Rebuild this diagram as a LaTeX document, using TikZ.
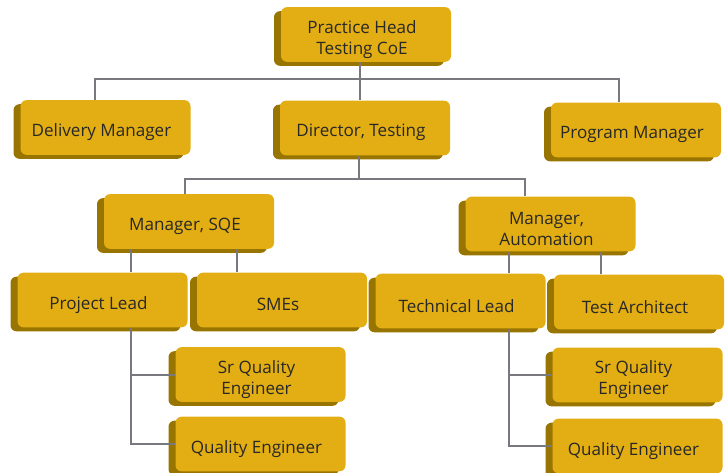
\documentclass[tikz,border=0pt]{standalone}
\usepackage{fontspec}
\setmainfont{Open Sans}
\usepackage{tikz}
\usetikzlibrary{shadows}
\definecolor{orgfront}{RGB}{226,174,20}
\definecolor{orgside}{RGB}{152,116,0}
\definecolor{orgline}{RGB}{120,121,126}
\definecolor{orgtext}{RGB}{40,40,40}

\tikzset{
  orgbox/.style={fill=orgfront, rounded corners=4.5pt, minimum width=127.5pt,
    minimum height=41pt, inner sep=0pt,
    general shadow={fill=orgside, shadow xshift=-5.25pt, shadow yshift=-3pt}},
  orglabel/.style={align=center, text=orgtext, inner sep=0pt,
    font=\fontsize{12.8}{15.8}\selectfont, xshift=-3pt, yshift=-3.5pt},
  orglink/.style={draw=orgline, line width=1.5pt}
}

\begin{document}
\begin{tikzpicture}[x=0.75pt, y=-0.75pt]
    \useasboundingbox (0,0) rectangle (727,473);

    % Top
    \node[orgbox, label={[orglabel]center:{Practice Head\\Testing CoE}}] (head) at (366,34.5) {};

    % Second row
    \node[orgbox, label={[orglabel]center:{Delivery Manager}}] (deliv) at (105.5,127.5) {};
    \node[orgbox, label={[orglabel]center:{Director, Testing}}] (director) at (365,128) {};
    \node[orgbox, label={[orglabel]center:{Program Manager}}] (program) at (636,130) {};

    % Managers
    \node[orgbox, label={[orglabel]center:{Manager, SQE}}] (sqe) at (189,221.5) {};
    \node[orgbox, label={[orglabel]center:{Manager,\\Automation}}] (auto) at (550.5,224) {};

    % Leads
    \node[orgbox, label={[orglabel]center:{Project Lead}}] (plead) at (102.5,300) {};
    \node[orgbox, label={[orglabel]center:{SMEs}}] (smes) at (282,300) {};
    \node[orgbox, label={[orglabel]center:{Technical Lead}}] (tlead) at (460.5,301) {};
    \node[orgbox, label={[orglabel]center:{Test Architect}}] (tarch) at (639,302) {};

    % Engineers
    \node[orgbox, label={[orglabel]center:{Sr Quality\\Engineer}}] (srqeA) at (260.5,374.5) {};
    \node[orgbox, label={[orglabel]center:{Quality Engineer}}] (qeA) at (260.5,444) {};
    \node[orgbox, label={[orglabel]center:{Sr Quality\\Engineer}}] (srqeB) at (637.5,375) {};
    \node[orgbox, label={[orglabel]center:{Quality Engineer}}] (qeB) at (637.5,446) {};

    % Connectors
    \draw[orglink] ([xshift=-4.5pt]head.south) -- ++(0,17) -| ([xshift=-8pt]deliv.north);
    \draw[orglink] ([xshift=-4.5pt]head.south) -- ++(0,17) -| ([xshift=-3.75pt]director.north);
    \draw[orglink] ([xshift=-4.5pt]head.south) -- ++(0,17) -| ([xshift=-12.75pt]program.north);

    \draw[orglink] ([xshift=-4.5pt]director.south) -- ++(0,23) -| ([xshift=-3pt]sqe.north);
    \draw[orglink] ([xshift=-4.5pt]director.south) -- ++(0,23) -| ([xshift=-19pt]auto.north);

    \draw[orglink] ([xshift=21pt]plead.north) -- ([xshift=21pt]plead.north |- sqe.south);
    \draw[orglink] ([xshift=-33.75pt]smes.north) -- ([xshift=-33.75pt]smes.north |- sqe.south);
    \draw[orglink] ([xshift=36.5pt]tlead.north) -- ([xshift=36.5pt]tlead.north |- auto.south);
    \draw[orglink] ([xshift=-28.5pt]tarch.north) -- ([xshift=-28.5pt]tarch.north |- auto.south);

    \draw[orglink] ([xshift=21pt]plead.south) |- (srqeA.west);
    \draw[orglink] ([xshift=21pt]plead.south) |- (qeA.west);
    \draw[orglink] ([xshift=36.5pt]tlead.south) |- (srqeB.west);
    \draw[orglink] ([xshift=36.5pt]tlead.south) |- (qeB.west);
\end{tikzpicture}
\end{document}
